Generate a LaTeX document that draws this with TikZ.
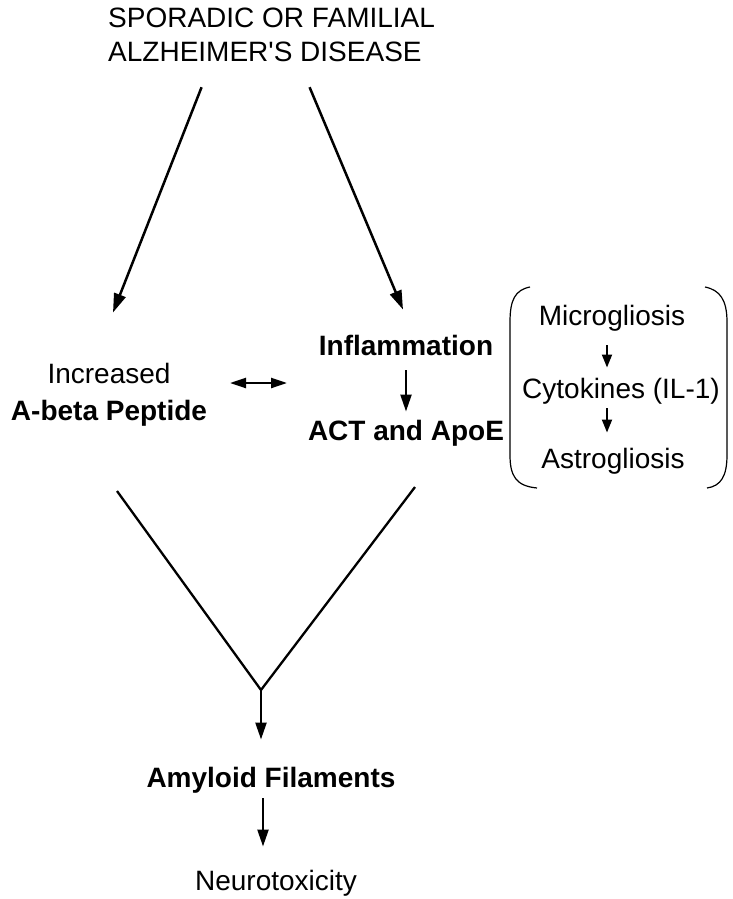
\documentclass[tikz,border=0pt]{standalone}
\usepackage{fontspec}
\setmainfont{Liberation Sans}
\usetikzlibrary{positioning,arrows.meta}
\tikzset{
  plain term/.style={
    font=\fontsize{28}{34}\selectfont,
    inner sep=0pt,
    anchor=base,
  },
  key term/.style={
    plain term,
    font=\fontsize{28}{34}\selectfont\bfseries,
  },
  causes/.style={
    line width=2.3pt,
    -{Triangle[length=17pt,width=11pt]},
  },
  small causes/.style={
    line width=2pt,
    -{Triangle[length=13pt,width=10pt]},
  },
  plain line/.style={
    line width=2.3pt,
  },
  bracket/.style={
    line width=1.2pt,
  }
}

\begin{document}
\begin{tikzpicture}[x=1pt, y=-1pt]
        \useasboundingbox (0,0) rectangle (732,899);

        \node [plain term, anchor=north west, align=left] (disease) at (108,8)
          {SPORADIC OR FAMILIAL\\ALZHEIMER\textquotesingle S DISEASE};

        \node [plain term] (incr) at (109,383) {Increased};
        \node [key term, below=37pt of incr.base, anchor=base] (abeta) {A-beta Peptide};
        \node [key term] (infl) at (406,355) {Inflammation};
        \node [key term, below=85pt of infl.base, anchor=base] (act) {ACT and ApoE};

        \node [plain term] (micro) at (612,325) {Microgliosis};
        \node [plain term] (cyto) at (621,398) {Cytokines (IL-1)};
        \node [plain term] (astro) at (613,468) {Astrogliosis};

        \node [key term] (amyl) at (271,787) {Amyloid Filaments};
        \node [plain term, below=103pt of amyl.base, anchor=base, xshift=5pt] (neuro) {Neurotoxicity};

        \coordinate (linkL) at (230,383);
        \coordinate (linkR) at (287,383);
        \coordinate (join) at (261,690);

        % disease splits in two
        \draw [causes, line width=2.5pt, -{Triangle[length=19pt,width=12pt]}]
          ([xshift=-70pt,yshift=-25pt]disease.south) -- ([xshift=4pt,yshift=50pt]incr.north);
        \draw [causes, line width=2.5pt, -{Triangle[length=19pt,width=12pt]}]
          ([xshift=38pt,yshift=-25pt]disease.south) -- ([xshift=-3pt,yshift=25pt]infl.north);

        \draw [line width=2.3pt, {Triangle[length=16pt,width=10pt]}-{Triangle[length=16pt,width=10pt]}]
          (linkL) -- (linkR);
        \draw [causes, shorten <=15pt, shorten >=8pt] (infl.south) -- (infl.south |- act.north);

        % glial cascade
        \draw [bracket] (530,287) .. controls (515,290) and (510,300) .. (510,322)
          -- (510,455) .. controls (510,476) and (516,486) .. (537,488);
        \draw [bracket] (705,287) .. controls (720,290) and (727,300) .. (727,322)
          -- (727,455) .. controls (727,476) and (721,486) .. (707,488);
        \draw [small causes, shorten <=14pt, shorten >=10pt]
          ([xshift=-5pt]micro.south) -- ([xshift=-5pt]micro.south |- cyto.north);
        \draw [small causes, shorten <=4pt, shorten >=15pt]
          ([xshift=-5pt]micro.south |- cyto.south) -- ([xshift=-5pt]micro.south |- astro.north);

        % convergence
        \draw [plain line] ([xshift=8pt,yshift=-65pt]abeta.south) -- (join)
          -- ([xshift=9pt,yshift=-41pt]act.south);
        \draw [causes, shorten >=27pt] (join) -- (join |- amyl.north);
        \draw [causes, shorten <=5pt, shorten >=23pt]
          ([xshift=2pt]join |- amyl.south) -- ([xshift=2pt]join |- neuro.north);
      \end{tikzpicture}
\end{document}
